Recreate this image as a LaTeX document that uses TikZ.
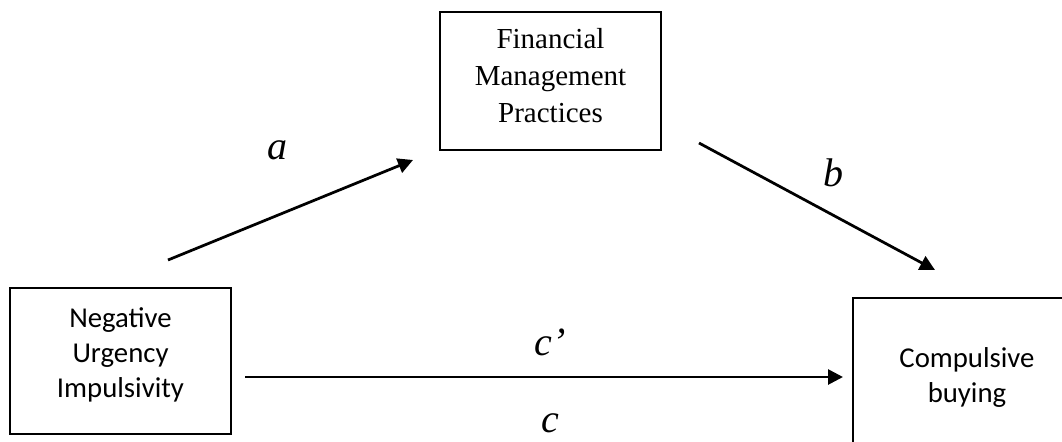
\documentclass[tikz,border=0pt]{standalone}
\usepackage{fontspec}
\setmainfont{Liberation Serif}
\newfontfamily\carlito{Carlito}
\usetikzlibrary{arrows.meta}
\tikzstyle{var} = [rectangle, draw=black, line width=0.5pt, align=center, inner sep=0pt, font=\fontsize{11.6}{14.8}\selectfont]
\tikzstyle{cvar} = [var, font=\carlito\fontsize{11.5}{14}\selectfont]
\tikzstyle{arrow} = [line width=1.1pt, -{Triangle[length=6pt,width=6pt]}]
\tikzstyle{coef} = [inner sep=0pt, font=\fontsize{16}{16}\selectfont\itshape]

\begin{document}
\begin{tikzpicture}[x=0.4pt, y=-0.4pt]
    \clip (0,0) rectangle (1062,441);

    \node (fmp) [var, minimum width=88.4pt, minimum height=55.2pt] at (550.5,81) {Financial\\Management\\Practices\rule[-4.5pt]{0pt}{0pt}};
    \node (nui) [cvar, minimum width=88.4pt, minimum height=58.4pt] at (120.5,361) {Negative\\Urgency\\Impulsivity\rule[-7pt]{0pt}{0pt}};
    \node (cb) [cvar, minimum width=91.2pt, minimum height=63.2pt] at (967,377) {Compulsive\\buying};

    \coordinate (a0) at (168,260);
    \coordinate (a1) at (413,160);
    \coordinate (b0) at (699,143);
    \coordinate (b1) at (935,270);
    \coordinate (c0) at (245,377);
    \coordinate (c1) at (843,377);

    \draw [arrow] (a0) -- (a1);
    \draw [arrow] (b0) -- (b1);
    \draw [arrow] (c0) -- (c1);

    \node (la) [coef] at (277,150) {a};
    \node (lb) [coef] at (833,173) {b};
    \node (lcp) [coef] at (550,342) {c’};
    \node (lc) [coef] at (550,423) {c};

\end{tikzpicture}
\end{document}
